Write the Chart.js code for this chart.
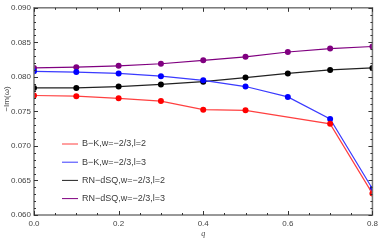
<!DOCTYPE html>
<html>
<head>
<meta charset="utf-8">
<script src="https://cdn.jsdelivr.net/npm/chart.js@4.4.0/dist/chart.umd.min.js"></script>
<style>
  html, body { margin: 0; padding: 0; background: #fff; }
  #wrap { width: 382px; height: 240px; }
</style>
</head>
<body>
<div id="wrap"><canvas id="qnmChart" width="382" height="240"></canvas></div>
<script>
// -Im(w) against q, four curves
const qValues = [0.0, 0.1, 0.2, 0.3, 0.4, 0.5, 0.6, 0.7, 0.8];
const bkL2 = [0.0773, 0.0772, 0.0769, 0.0765, 0.07525, 0.07516, null, 0.0732, 0.0631];
const bkL3 = [0.0808, 0.0807, 0.0805, 0.0801, 0.0795, 0.0786, 0.0771, 0.0739, 0.0638];
const rnL2 = [0.0784, 0.0784, 0.0786, 0.0789, 0.0793, 0.0799, 0.0805, 0.0810, 0.0813];
const rnL3 = [0.0813, 0.0814, 0.0816, 0.0819, 0.0824, 0.0829, 0.0836, 0.0841, 0.0844];
const seriesLabels = ['B\u2212K,w=\u22122/3,l=2', 'B\u2212K,w=\u22122/3,l=3', 'RN\u2212dSQ,w=\u22122/3,l=2', 'RN\u2212dSQ,w=\u22122/3,l=3'];
const lineColors = ['#ff4040', '#3a3aff', '#222222', '#800080'];
const markColors = ['#ff0000', '#0000ff', '#000000', '#800080'];
const yTicks = [0.060, 0.065, 0.070, 0.075, 0.080, 0.085, 0.090];
const xTicks = [0.0, 0.2, 0.4, 0.6, 0.8];

function toPoints(arr) {
    return qValues.map((q, i) => ({ x: q, y: arr[i] }));
}

const allSeries = [bkL2, bkL3, rnL2, rnL3];
const datasets = allSeries.map((s, i) => ({
    label: seriesLabels[i],
    data: toPoints(s),
    borderColor: lineColors[i],
    backgroundColor: markColors[i],
    pointBackgroundColor: markColors[i],
    pointBorderWidth: 0,
    pointRadius: 3,
    borderWidth: 1.2,
    spanGaps: true,
    tension: 0
}));

// frame, inside ticks, legend and axis titles (Mathematica style)
const framePlugin = {
    id: 'frame',
    afterDraw(chart) {
        const c = chart.ctx;
        const a = chart.chartArea;
        const xs = chart.scales.x, ys = chart.scales.y;
        c.save();
        c.strokeStyle = '#777';
        c.lineWidth = 1.5;
        c.strokeRect(a.left, a.top, a.right - a.left, a.bottom - a.top);

        c.strokeStyle = '#333';
        c.lineWidth = 1;
        // x ticks
        for (let k = 0; k <= 16; k++) {
            const v = k * 0.05;
            const px = Math.round(xs.getPixelForValue(v)) + 0.5;
            const len = (k % 4 === 0) ? 4 : 2;
            c.beginPath();
            c.moveTo(px, a.bottom); c.lineTo(px, a.bottom - len);
            c.moveTo(px, a.top); c.lineTo(px, a.top + len);
            c.stroke();
        }
        // y ticks
        for (let k = 0; k <= 30; k++) {
            const v = 0.060 + k * 0.001;
            const py = Math.round(ys.getPixelForValue(v)) + 0.5;
            const len = (k % 5 === 0) ? 4 : 2;
            c.beginPath();
            c.moveTo(a.left, py); c.lineTo(a.left + len, py);
            c.moveTo(a.right, py); c.lineTo(a.right - len, py);
            c.stroke();
        }

        // legend
        c.font = '9px "Liberation Sans", Arial, sans-serif';
        c.textBaseline = 'middle';
        c.textAlign = 'left';
        chart.data.datasets.forEach((ds, i) => {
            const y = 144 + i * 18.2;
            c.strokeStyle = ds.borderColor;
            c.lineWidth = 1;
            c.beginPath();
            c.moveTo(62, y); c.lineTo(78, y);
            c.stroke();
            c.fillStyle = '#3a3a3a';
            c.fillText(ds.label, 82, y);
        });

        // axis titles
        c.fillStyle = '#444';
        c.font = 'italic 8px "Liberation Serif", serif';
        c.textAlign = 'center';
        c.fillText('q', (a.left + a.right) / 2, 234);
        c.translate(7, 99);
        c.rotate(-Math.PI / 2);
        c.font = '8px "Liberation Sans", Arial, sans-serif';
        c.fillText('\u2212Im(\u03c9)', 0, 0);
        c.restore();
    }
};

const ctx = document.getElementById('qnmChart').getContext('2d');
const qnmChart = new Chart(ctx, {
    type: 'line',
    data: { datasets: datasets },
    options: {
        responsive: false,
        animation: false,
        layout: { padding: { left: 0, top: 4, right: 7, bottom: 0 } },
        plugins: {
            legend: { display: false },
            tooltip: { enabled: false }
        },
        scales: {
            x: {
                type: 'linear',
                min: 0, max: 0.8,
                afterBuildTicks: s => { s.ticks = xTicks.map(v => ({ value: v })); },
                afterFit: s => { s.height = 25; },
                ticks: {
                    color: '#444',
                    font: { size: 8, family: '"Liberation Sans", Arial, sans-serif' },
                    padding: 4,
                    maxRotation: 0,
                    callback: v => v.toFixed(1)
                },
                grid: { display: false, drawTicks: false },
                border: { display: false }
            },
            y: {
                type: 'linear',
                min: 0.060, max: 0.090,
                afterBuildTicks: s => { s.ticks = yTicks.map(v => ({ value: v })); },
                afterFit: s => { s.width = 34; },
                ticks: {
                    color: '#444',
                    font: { size: 8, family: '"Liberation Sans", Arial, sans-serif' },
                    padding: 3,
                    callback: v => v.toFixed(3)
                },
                grid: { display: false, drawTicks: false },
                border: { display: false }
            }
        }
    },
    plugins: [framePlugin]
});
</script>
</body>
</html>
